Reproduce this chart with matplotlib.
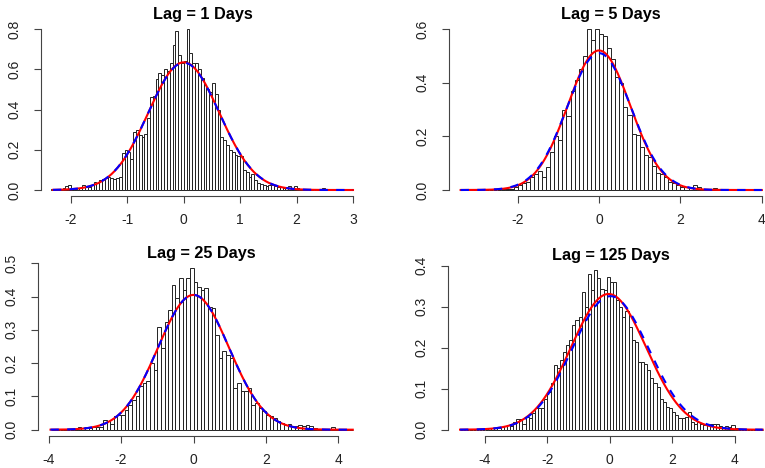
import numpy as np
import matplotlib.pyplot as plt

plt.rcParams['font.family'] = ['Liberation Sans', 'DejaVu Sans']

titles = ['Lag = 1 Days', 'Lag = 5 Days', 'Lag = 25 Days', 'Lag = 125 Days']

# histogram breaks: first break and bin width of each panel
bin_start = [-2.35, -3.4, -3.9, -4.8]
bin_width = [0.05, 0.1, 0.1, 0.1]

# bar heights (density)
dens1 = [0.005, 0.0, 0.005, 0.005, 0.01, 0.02, 0.025, 0.01, 0.005, 0.01,
         0.01, 0.025, 0.015, 0.015, 0.025, 0.04, 0.035, 0.05, 0.055, 0.06,
         0.065, 0.06, 0.055, 0.06, 0.065, 0.185, 0.2, 0.19, 0.155, 0.29,
         0.30, 0.275, 0.265, 0.28, 0.36, 0.465, 0.47, 0.55, 0.58, 0.57,
         0.60, 0.59, 0.63, 0.72, 0.79, 0.67, 0.63, 0.64, 0.80, 0.68,
         0.63, 0.63, 0.60, 0.555, 0.52, 0.50, 0.49, 0.53, 0.48, 0.40,
         0.265, 0.25, 0.225, 0.20, 0.19, 0.175, 0.17, 0.17, 0.10, 0.09,
         0.065, 0.08, 0.05, 0.035, 0.03, 0.025, 0.02, 0.025, 0.025, 0.02,
         0.015, 0.015, 0.01, 0.015, 0.02, 0.01, 0.02, 0.01, 0.005, 0.005,
         0.0, 0.005, 0.0, 0.0, 0.005, 0.005, 0.01, 0.005, 0.0, 0.0,
         0.005, 0.0, 0.005, 0.0, 0.005, 0.0, 0.005]
dens2 = [0.0, 0.0, 0.0, 0.0, 0.0, 0.0, 0.0, 0.0, 0.0, 0.0,
         0.002, 0.003, 0.005, 0.01, 0.02, 0.025, 0.03, 0.05, 0.06, 0.07,
         0.05, 0.087, 0.14, 0.2, 0.186, 0.30, 0.275, 0.37, 0.41, 0.45,
         0.50, 0.60, 0.56, 0.60, 0.58, 0.575, 0.53, 0.49, 0.42, 0.40,
         0.31, 0.28, 0.21, 0.205, 0.16, 0.13, 0.124, 0.09, 0.065, 0.06,
         0.05, 0.03, 0.025, 0.018, 0.012, 0.01, 0.01, 0.018, 0.012, 0.005,
         0.005, 0.004, 0.006, 0.003, 0.0, 0.0, 0.0, 0.0, 0.0, 0.0,
         0.0, 0.0, 0.0, 0.0]
dens3 = [0.003, 0.0, 0.0, 0.003, 0.0, 0.0, 0.003, 0.008, 0.005, 0.008,
         0.005, 0.007, 0.007, 0.009, 0.03, 0.025, 0.017, 0.04, 0.045, 0.045,
         0.06, 0.075, 0.09, 0.10, 0.13, 0.14, 0.145, 0.2, 0.18, 0.31,
         0.245, 0.325, 0.36, 0.435, 0.395, 0.455, 0.42, 0.455, 0.485, 0.445,
         0.43, 0.42, 0.425, 0.37, 0.365, 0.285, 0.215, 0.235, 0.225, 0.215,
         0.125, 0.14, 0.115, 0.115, 0.125, 0.075, 0.08, 0.065, 0.055, 0.045,
         0.04, 0.035, 0.025, 0.02, 0.015, 0.016, 0.012, 0.012, 0.014, 0.01,
         0.013, 0.01, 0.005, 0.003, 0.003, 0.003, 0.0, 0.007, 0.003, 0.002,
         0.0, 0.002, 0.0]
dens4 = [0.0, 0.0, 0.0, 0.0, 0.0, 0.0, 0.0, 0.0, 0.0, 0.003,
         0.003, 0.005, 0.005, 0.007, 0.009, 0.011, 0.01, 0.02, 0.025, 0.026,
         0.015, 0.032, 0.028, 0.04, 0.052, 0.052, 0.052, 0.076, 0.093, 0.113,
         0.158, 0.15, 0.17, 0.19, 0.207, 0.22, 0.255, 0.267, 0.275, 0.337,
         0.30, 0.38, 0.34, 0.39, 0.37, 0.343, 0.34, 0.372, 0.36, 0.36,
         0.316, 0.30, 0.275, 0.29, 0.25, 0.22, 0.215, 0.165, 0.165, 0.16,
         0.145, 0.125, 0.113, 0.105, 0.076, 0.068, 0.056, 0.052, 0.044, 0.036,
         0.029, 0.028, 0.032, 0.044, 0.02, 0.015, 0.02, 0.015, 0.011, 0.011,
         0.015, 0.015, 0.015, 0.01, 0.007, 0.01, 0.007, 0.011, 0.005, 0.0,
         0.0, 0.0, 0.0, 0.0, 0.0, 0.0, 0.0]
densities = [dens1, dens2, dens3, dens4]

# range over which the normal curves are drawn
curve_lo = [-2.32, -3.4, -3.95, -4.8]
curve_hi = [3.0, 4.0, 4.4, 4.9]

# fitted normal (red, solid) and reference normal (blue, dashed)
red_mean = [0.0, 0.0, 0.0, -0.04]
red_sd = [0.628, 0.767, 0.985, 1.205]
blue_mean = [0.0, 0.0, 0.0, 0.02]
blue_sd = [0.630, 0.782, 0.985, 1.225]

xticks = [[-2, -1, 0, 1, 2, 3], [-2, 0, 2, 4], [-4, -2, 0, 2, 4], [-4, -2, 0, 2, 4]]
yticks = [[0.0, 0.2, 0.4, 0.6, 0.8], [0.0, 0.2, 0.4, 0.6],
          [0.0, 0.1, 0.2, 0.3, 0.4, 0.5], [0.0, 0.1, 0.2, 0.3, 0.4]]

# pixel layout: x pixel of data 0, px per x unit, y pixel of density 0, px per density unit
W, H = 765, 468
layout = [(183.8, 56.4, 190.0, 201.0),
          (599.0, 40.7, 190.0, 268.3),
          (193.5, 36.2, 429.7, 332.8),
          (609.8, 31.2, 429.7, 410.0)]

fig = plt.figure(figsize=(W / 100, H / 100), dpi=100)

for i in range(4):
    d = np.array(densities[i])
    edges = bin_start[i] + bin_width[i] * np.arange(len(d))
    lo, hi = curve_lo[i], curve_hi[i]
    xlim = (lo - 0.04 * (hi - lo), hi + 0.04 * (hi - lo))
    ymax = d.max()
    ylim = (-0.04 * ymax, 1.04 * ymax)

    px0, ppx, py0, ppy = layout[i]
    left = px0 + xlim[0] * ppx
    right = px0 + xlim[1] * ppx
    top = py0 - ylim[1] * ppy
    bottom = py0 - ylim[0] * ppy
    ax = fig.add_axes([left / W, 1 - bottom / H, (right - left) / W, (bottom - top) / H])

    ax.bar(edges, d, width=bin_width[i], align='edge', facecolor='white',
           edgecolor='#222222', linewidth=0.7)

    xs = np.linspace(lo, hi, 400)
    red = np.exp(-0.5 * ((xs - red_mean[i]) / red_sd[i]) ** 2) / (red_sd[i] * np.sqrt(2 * np.pi))
    blue = np.exp(-0.5 * ((xs - blue_mean[i]) / blue_sd[i]) ** 2) / (blue_sd[i] * np.sqrt(2 * np.pi))
    ax.plot(xs, red, color='red', linewidth=1.5)
    ax.plot(xs, blue, color='blue', linewidth=1.5, linestyle=(0, (4, 4)))

    ax.set_xlim(xlim)
    ax.set_ylim(ylim)
    ax.set_xticks(xticks[i])
    ax.set_xticklabels([str(t) for t in xticks[i]])
    ax.set_yticks(yticks[i])
    ax.set_yticklabels(['%.1f' % t for t in yticks[i]], rotation=90, va='center')

    for s in ['top', 'right']:
        ax.spines[s].set_visible(False)
    ax.spines['left'].set_bounds(yticks[i][0], yticks[i][-1])
    ax.spines['bottom'].set_bounds(xticks[i][0], xticks[i][-1])
    for s in ['left', 'bottom']:
        ax.spines[s].set_color('#444444')
        ax.spines[s].set_linewidth(0.8)
    ax.tick_params(direction='out', length=5, width=0.8, color='#444444',
                   labelsize=10, labelcolor='#222222')
    ax.tick_params(axis='x', pad=7)
    ax.tick_params(axis='y', pad=9)
    ax.patch.set_visible(False)
    ax.set_title(titles[i], fontsize=11.7, fontweight='bold', pad=2.5)

plt.savefig('out.png', dpi=100)
